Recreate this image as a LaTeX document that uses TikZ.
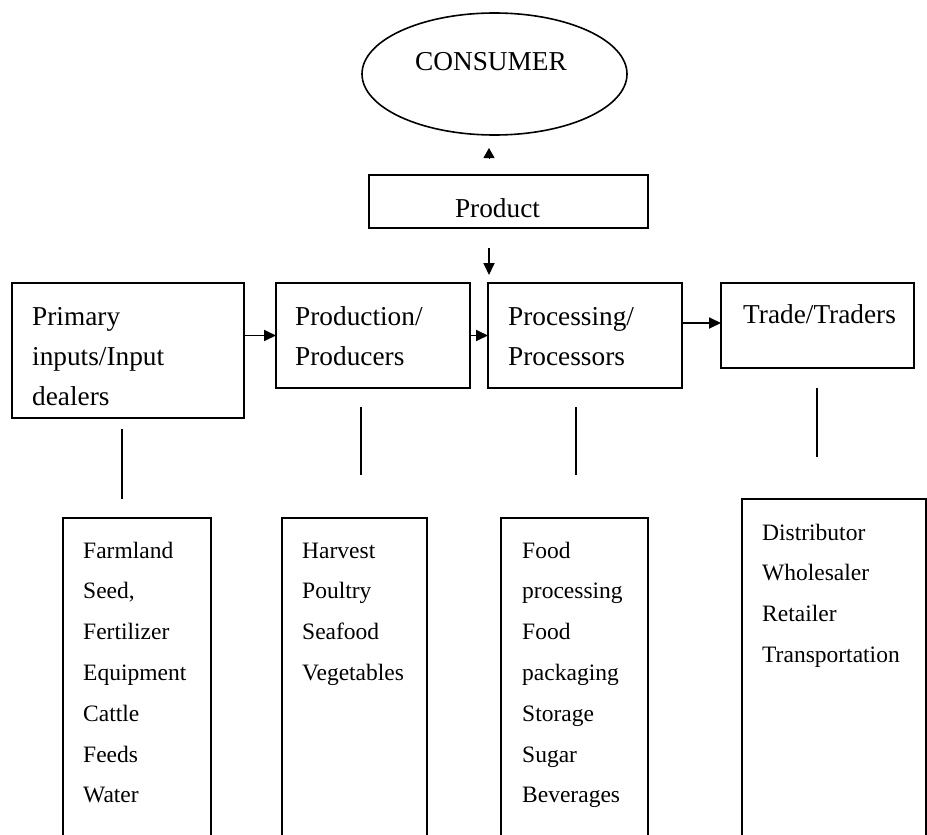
\documentclass[tikz,border=0pt]{standalone}
\usepackage{fontspec}
\setmainfont{Liberation Serif}
\usetikzlibrary{arrows.meta,shapes.geometric}
\tikzset{
  box/.style={draw, line width=1.8pt, rectangle, inner sep=0pt, outer sep=0pt},
  oval/.style={draw, line width=1.6pt, ellipse, inner sep=0pt, outer sep=0pt},
  bigtext/.style={inner sep=0pt, align=left, font=\fontsize{27.3}{40}\selectfont},
  listtext/.style={inner sep=0pt, align=left, font=\fontsize{23.5}{40.8}\selectfont},
  arr/.style={line width=1.8pt, -{Triangle[length=12pt,width=11pt]}},
  stub/.style={line width=1.8pt},
}
\begin{document}
\begin{tikzpicture}[x=1pt,y=-1pt]
\useasboundingbox (0,0) rectangle (927,835);
\clip (0,0) rectangle (927,835);
% top
\node[oval, minimum width=265pt, minimum height=122pt] (cons) at (494.5,74) {};
\node[bigtext, anchor=base] (constext) at (491,70) {CONSUMER};
\node[box, minimum width=279pt, minimum height=53pt] (prodbox) at (508.5,201.5) {};
\node[bigtext, anchor=base] (prodtext) at (497.5,217) {Product};
% row boxes
\node[box, minimum width=232pt, minimum height=135pt] (prim) at (128,350.5) {};
\node[box, minimum width=194pt, minimum height=105pt] (prod) at (373,335.5) {};
\node[box, minimum width=194pt, minimum height=105pt] (proc) at (585,335.5) {};
\node[box, minimum width=193pt, minimum height=85pt] (trade) at (817.5,325.5) {};
% multi-line nodes: base anchor is the baseline of the last line
\node[bigtext, anchor=base west] (primtext) at (32,405) {Primary\\inputs/Input\\dealers};
\node[bigtext, anchor=base west] (prodt) at (295,365) {Production/\\Producers};
\node[bigtext, anchor=base west] (proct) at (508,365) {Processing/\\Processors};
\node[bigtext, anchor=base west] (tradet) at (743,323) {Trade/Traders};
% list boxes
\node[box, minimum width=148pt, minimum height=332pt] (l1) at (137,684) {};
\node[box, minimum width=145pt, minimum height=332pt] (l2) at (354.5,684) {};
\node[box, minimum width=147pt, minimum height=332pt] (l3) at (574.5,684) {};
\node[box, minimum width=184pt, minimum height=351pt] (l4) at (834,674.5) {};
\node[listtext, anchor=base west] (l1t) at (83,802.8) {Farmland\\Seed,\\Fertilizer\\Equipment\\Cattle\\Feeds\\Water};
\node[listtext, anchor=base west] (l2t) at (302,680.4) {Harvest\\Poultry\\Seafood\\Vegetables};
\node[listtext, anchor=base west] (l3t) at (522,802.8) {Food\\processing\\Food\\packaging\\Storage\\Sugar\\Beverages};
\node[listtext, anchor=base west] (l4t) at (762,662.4) {Distributor\\Wholesaler\\Retailer\\Transportation};
% arrows
\coordinate (upa) at (489,158);
\coordinate (upb) at (489,148);
\draw[line width=1pt, -{Triangle[length=10pt,width=11pt]}] (upa) -- (upb);
\coordinate (dna) at (489,248);
\coordinate (dnb) at (489,275);
\draw[arr] (dna) -- (dnb);
\draw[arr] (prim.east |- prod.west) -- (prod.west);
\draw[arr] (prod.east) -- (proc.west);
\draw[arr] (proc.east |- 0,323) -- (trade.west |- 0,323);
% stubs
\coordinate (s1a) at (122,429); \coordinate (s1b) at (122,499);
\coordinate (s2a) at (361,407); \coordinate (s2b) at (361,475);
\coordinate (s3a) at (576,407); \coordinate (s3b) at (576,475);
\coordinate (s4a) at (817,388); \coordinate (s4b) at (817,457);
\draw[stub] (s1a) -- (s1b);
\draw[stub] (s2a) -- (s2b);
\draw[stub] (s3a) -- (s3b);
\draw[stub] (s4a) -- (s4b);
\end{tikzpicture}
\end{document}
